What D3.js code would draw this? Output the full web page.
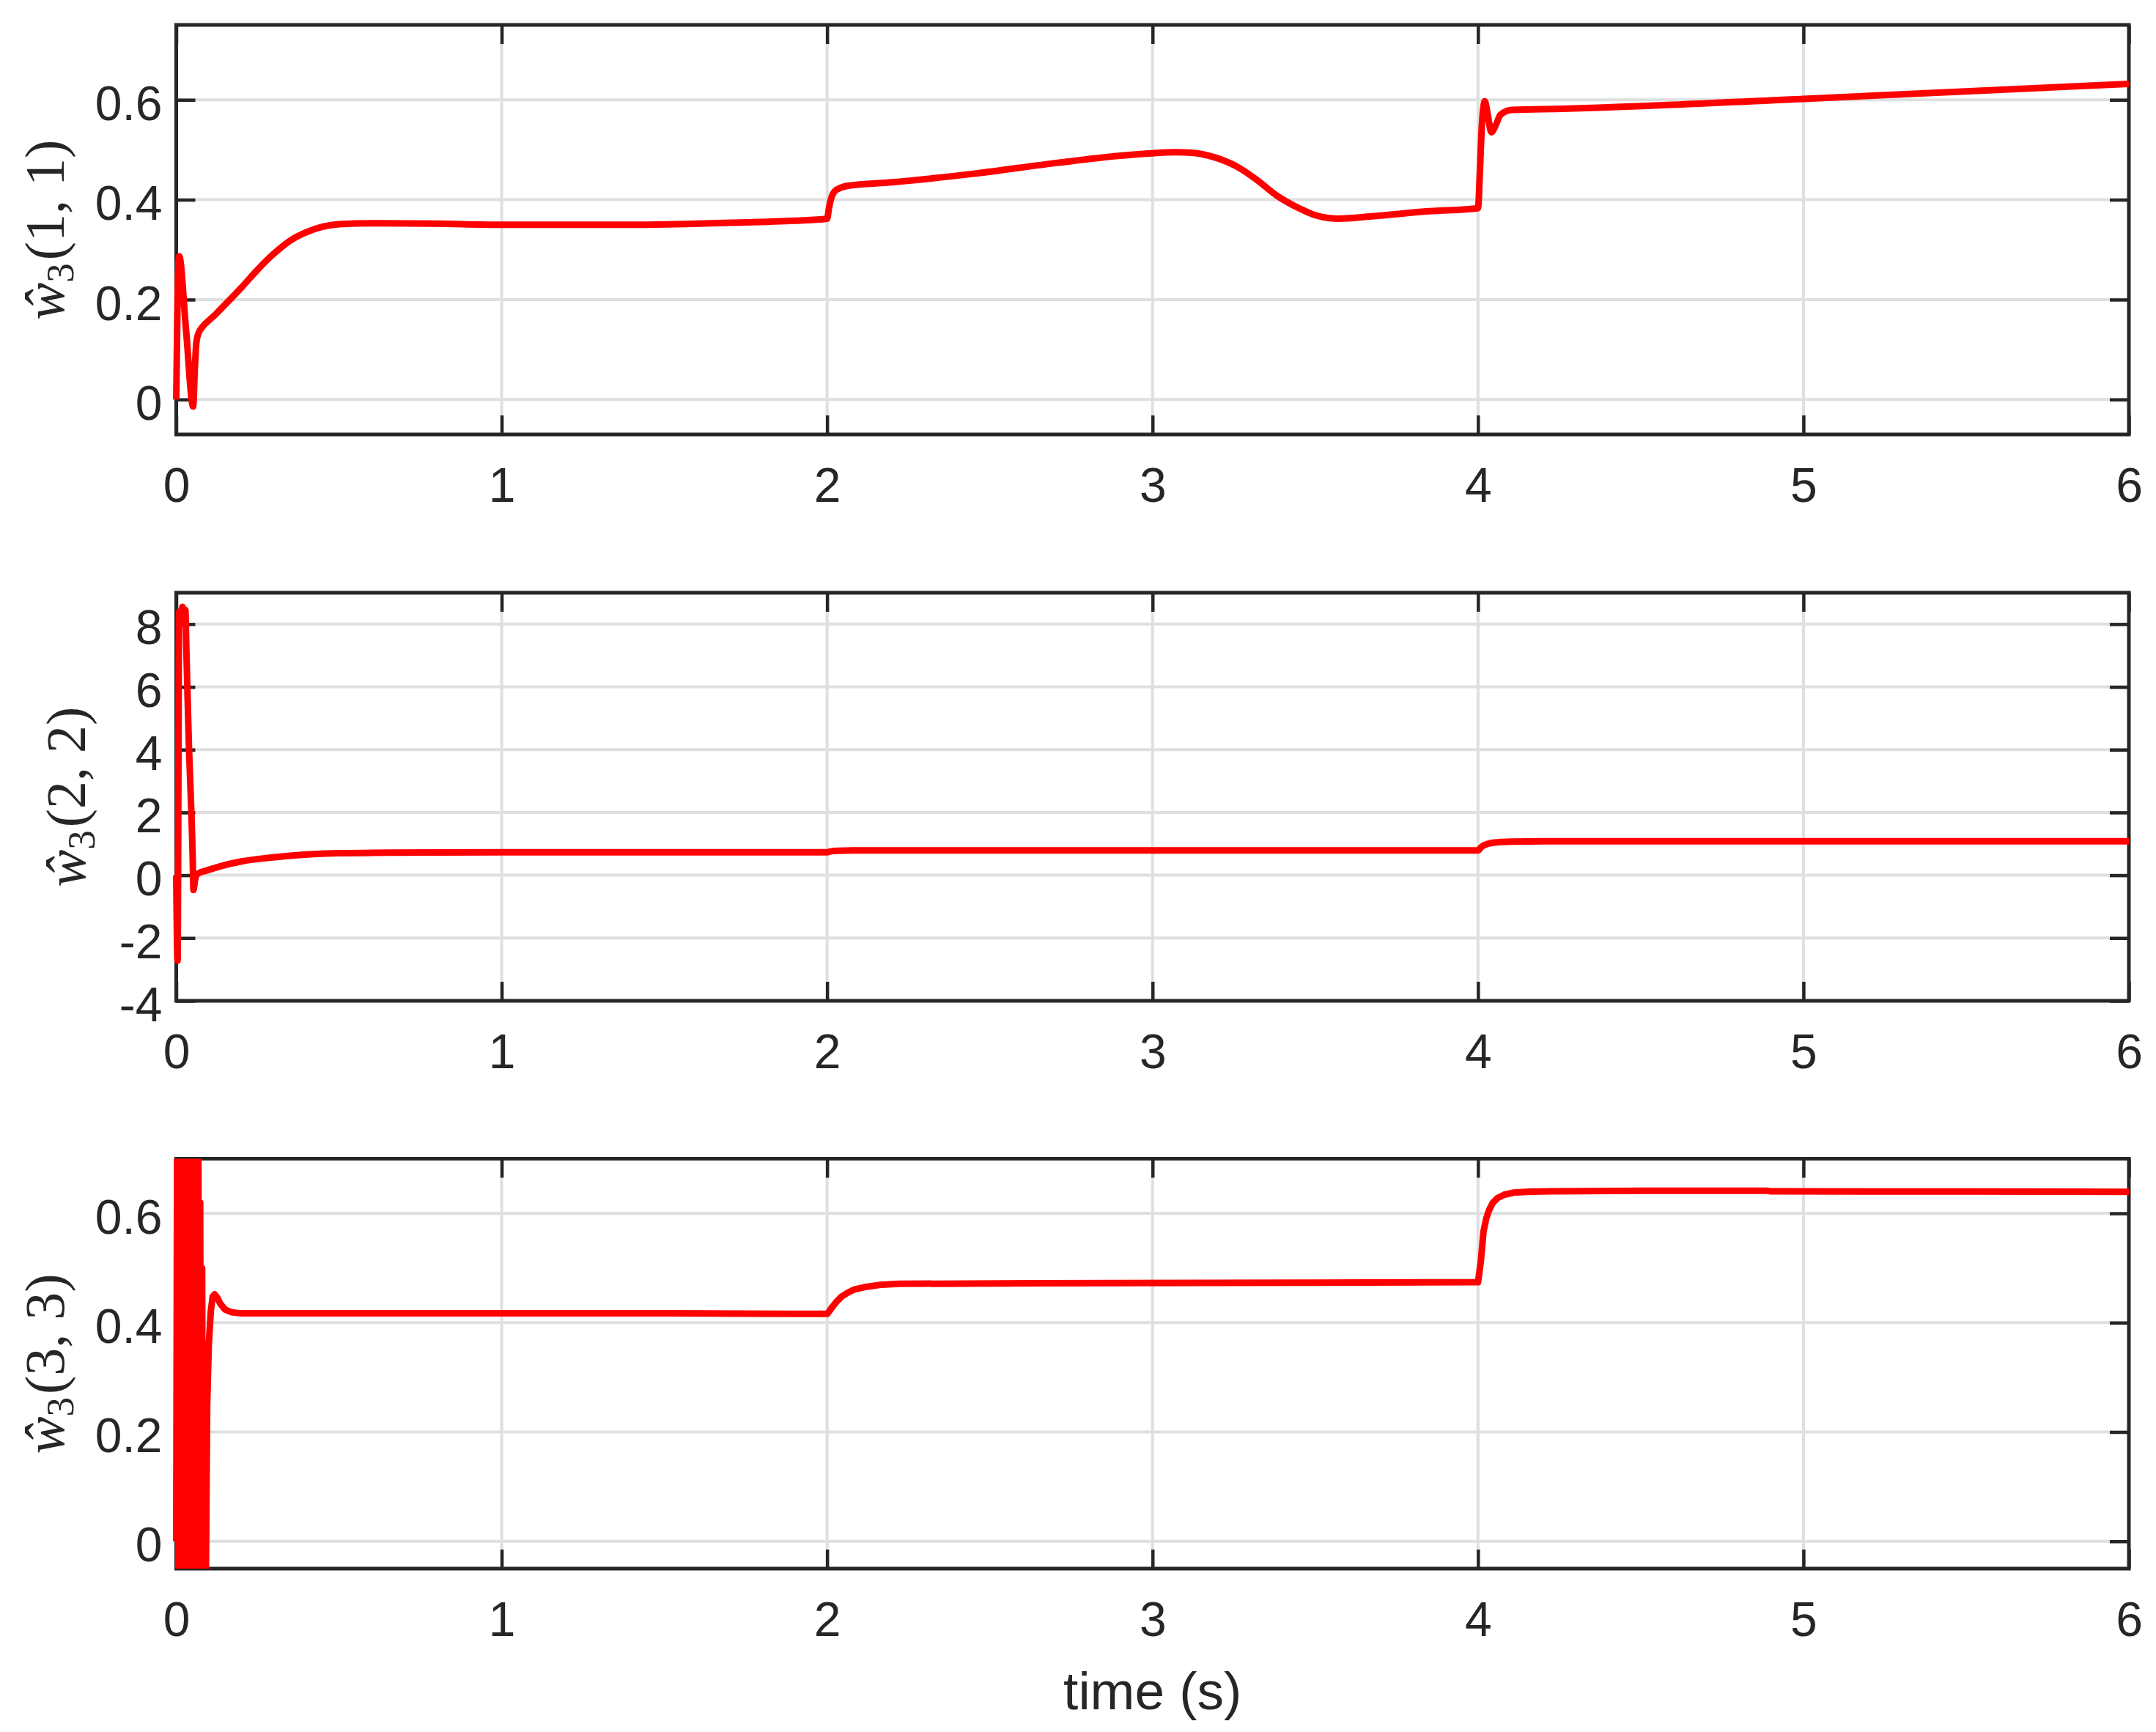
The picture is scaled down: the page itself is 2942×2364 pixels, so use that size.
<!DOCTYPE html>
<html><head><meta charset="utf-8">
<script src="https://cdn.jsdelivr.net/npm/d3@7/dist/d3.min.js"></script>
<style>body{margin:0;background:#fff}svg{display:block}</style>
</head><body>
<svg id="chart" width="2942" height="2364"></svg>
<script>
// ---------- data ----------
const xTicks = [0, 1, 2, 3, 4, 5, 6];
const xTickLabels = ["0", "1", "2", "3", "4", "5", "6"];
const xLabel = "time (s)";

const yTicks1 = [0, 0.2, 0.4, 0.6];
const yTickLabels1 = ["0", "0.2", "0.4", "0.6"];
const yDomain1 = [-0.07, 0.75];
const yTicks2 = [-4, -2, 0, 2, 4, 6, 8];
const yTickLabels2 = ["-4", "-2", "0", "2", "4", "6", "8"];
const yDomain2 = [-4, 9];
const yTicks3 = [0, 0.2, 0.4, 0.6];
const yTickLabels3 = ["0", "0.2", "0.4", "0.6"];
const yDomain3 = [-0.05, 0.7];

const yLabelIdx1 = "(1, 1)";
const yLabelIdx2 = "(2, 2)";
const yLabelIdx3 = "(3, 3)";

// w3(1,1)
const t1 = [0, 0.004, 0.009, 0.03, 0.052, 0.057, 0.062, 0.068, 0.08, 0.1,
            0.12, 0.15, 0.2, 0.25, 0.3, 0.35, 0.4, 0.45, 0.5, 0.6,
            0.8, 1.0, 1.4, 1.7, 1.9, 2.0, 2.006, 2.013, 2.022, 2.035,
            2.065, 2.2, 2.45, 2.71, 2.9, 3.0, 3.07, 3.12, 3.19, 3.26,
            3.32, 3.38, 3.45, 3.5, 3.545, 3.57, 3.68, 3.85, 4.0, 4.006,
            4.012, 4.021, 4.03, 4.041, 4.055, 4.069, 4.103, 4.26, 5.0, 6.0];
const w11 = [0, 0.2, 0.287, 0.14, -0.014, 0.06, 0.115, 0.132, 0.145, 0.158,
             0.17, 0.19, 0.224, 0.26, 0.292, 0.318, 0.335, 0.346, 0.351, 0.353,
             0.352, 0.350, 0.350, 0.354, 0.358, 0.362, 0.385, 0.404, 0.416, 0.422,
             0.428, 0.435, 0.452, 0.474, 0.488, 0.493, 0.495, 0.494, 0.485, 0.466,
             0.44, 0.409, 0.383, 0.369, 0.363, 0.362, 0.367, 0.377, 0.383, 0.46,
             0.55, 0.597, 0.57, 0.535, 0.55, 0.57, 0.58, 0.582, 0.602, 0.632];

// w3(2,2)
const t2 = [0, 0.004, 0.009, 0.014, 0.019, 0.024, 0.028, 0.031, 0.034, 0.039,
            0.0465, 0.05, 0.053, 0.057, 0.062, 0.07, 0.09, 0.13, 0.2, 0.28,
            0.35, 0.5, 0.65, 1.0, 2.0, 2.01, 2.03, 2.08, 3.0, 4.0,
            4.01, 4.03, 4.06, 4.1, 4.2, 5.0, 6.0];
const w22 = [0, -2.72, 8.4, 8.2, 8.55, 8.0, 8.45, 7.2, 6.0, 4.1,
             2.0, 0.8, -0.47, -0.2, 0.0, 0.07, 0.14, 0.27, 0.44, 0.55,
             0.62, 0.70, 0.72, 0.73, 0.73, 0.76, 0.78, 0.79, 0.79, 0.79,
             0.9, 1.0, 1.05, 1.07, 1.08, 1.08, 1.08];

// w3(3,3)
const t3 = [0, 0.004, 0.008, 0.012, 0.016, 0.02, 0.024, 0.028, 0.032, 0.036,
            0.04, 0.044, 0.048, 0.052, 0.056, 0.06, 0.064, 0.0675, 0.0705, 0.0735,
            0.0765, 0.0795, 0.0825, 0.0855, 0.09, 0.095, 0.1, 0.106, 0.112, 0.118,
            0.126, 0.135, 0.15, 0.17, 0.2, 0.5, 1.0, 1.5, 1.9, 2.0,
            2.008, 2.015, 2.03, 2.045, 2.064, 2.085, 2.115, 2.16, 2.22, 2.65,
            3.5, 4.0, 4.009, 4.017, 4.025, 4.034, 4.045, 4.06, 4.08, 4.11,
            4.16, 4.23, 4.52, 4.89, 4.9, 5.5, 6.0];
const w33 = [0, 1.1, -0.6, 1.2, -0.7, 1.0, -0.5, 1.15, -0.65, 1.05,
             -0.6, 1.2, -0.55, 1.0, -0.6, 1.1, -0.5, 0.95, -0.45, 0.62,
             -0.35, 0.5, -0.25, 0.32, -0.15, 0.25, 0.36, 0.42, 0.448, 0.452,
             0.446, 0.435, 0.424, 0.419, 0.417, 0.417, 0.417, 0.417, 0.416, 0.416,
             0.422, 0.428, 0.439, 0.448, 0.455, 0.461, 0.465, 0.469, 0.471, 0.4722,
             0.473, 0.474, 0.514, 0.567, 0.59, 0.606, 0.619, 0.628, 0.634, 0.638,
             0.6398, 0.6405, 0.6415, 0.6412, 0.6402, 0.640, 0.6395];

// ---------- layout & style ----------
const AX = "#262626", GRID = "#dfdfdf", RED = "#ff0000";
const SANS = "'Liberation Sans', Arial, Helvetica, sans-serif";
const SERIF = "'Liberation Serif', 'Times New Roman', serif";
const svg = d3.select("#chart");
const x = d3.scaleLinear().domain([0, 6]).range([240.5, 2905]);
const TICK = 26, LW = 9, PADX = 10;

const panels = [
  {top: 34, bottom: 593, domain: yDomain1, ticks: yTicks1, labels: yTickLabels1, t: t1, v: w11, idx: yLabelIdx1, lx: 87, curve: d3.curveMonotoneX},
  {top: 809, bottom: 1366, domain: yDomain2, ticks: yTicks2, labels: yTickLabels2, t: t2, v: w22, idx: yLabelIdx2, lx: 116, curve: d3.curveMonotoneX},
  {top: 1581.5, bottom: 2141, domain: yDomain3, ticks: yTicks3, labels: yTickLabels3, t: t3, v: w33, idx: yLabelIdx3, lx: 87, curve: d3.curveLinear}
];

panels.forEach((p, i) => {
  const y = d3.scaleLinear().domain(p.domain).range([p.bottom, p.top]);
  const g = svg.append("g");
  const x0 = x.range()[0], x1 = x.range()[1];

  // grid
  g.append("g").selectAll("line").data(xTicks).enter().append("line")
    .attr("x1", d => x(d)).attr("x2", d => x(d)).attr("y1", p.top).attr("y2", p.bottom)
    .attr("stroke", GRID).attr("stroke-width", 4);
  g.append("g").selectAll("line").data(p.ticks).enter().append("line")
    .attr("x1", x0).attr("x2", x1).attr("y1", d => y(d)).attr("y2", d => y(d))
    .attr("stroke", GRID).attr("stroke-width", 4);

  // axes
  const styleAxis = sel => {
    sel.select(".domain").remove();
    sel.selectAll(".tick line").attr("stroke", AX).attr("stroke-width", 4.5);
    sel.selectAll("text").attr("fill", AX).attr("font-family", SANS).attr("font-size", 66);
  };
  g.append("g").attr("transform", `translate(${x0},0)`)
    .call(d3.axisLeft(y).tickValues(p.ticks).tickSize(-TICK).tickPadding(19)
      .tickFormat((d, k) => p.labels[k]))
    .call(styleAxis)
    .call(s => s.selectAll("text").attr("dy", "0.41em"));
  g.append("g").attr("transform", `translate(${x1},0)`)
    .call(d3.axisRight(y).tickValues(p.ticks).tickSize(-TICK).tickFormat(""))
    .call(styleAxis);
  g.append("g").attr("transform", `translate(0,${p.bottom})`)
    .call(d3.axisBottom(x).tickValues(xTicks).tickSize(-TICK)
      .tickFormat((d, k) => xTickLabels[k]))
    .call(styleAxis)
    .call(s => s.selectAll("text").attr("y", 92).attr("dy", null));
  g.append("g").attr("transform", `translate(0,${p.top})`)
    .call(d3.axisTop(x).tickValues(xTicks).tickSize(-TICK).tickFormat(""))
    .call(styleAxis);

  // box
  g.append("rect").attr("x", x0).attr("y", p.top).attr("width", x1 - x0).attr("height", p.bottom - p.top)
    .attr("fill", "none").attr("stroke", AX).attr("stroke-width", 5);

  // data, clipped by a nested svg viewport at the axes limits
  const vp = g.append("svg")
    .attr("x", x0 - PADX).attr("y", p.top)
    .attr("width", x1 - x0 + 2 * PADX).attr("height", p.bottom - p.top)
    .attr("viewBox", `${x0 - PADX} ${p.top} ${x1 - x0 + 2 * PADX} ${p.bottom - p.top}`)
    .style("overflow", "hidden");
  const pts = p.t.map((t, k) => [t, p.v[k]]);
  vp.append("path").datum(pts)
    .attr("d", d3.line().curve(p.curve).x(d => x(d[0])).y(d => y(d[1])))
    .attr("fill", "none").attr("stroke", RED).attr("stroke-width", LW)
    .attr("stroke-linejoin", "round").attr("stroke-linecap", "butt");

  // y label: \hat{w}_3(i,i)
  const cy = (p.top + p.bottom) / 2;
  const lab = g.append("text").attr("transform", `translate(${p.lx},${cy}) rotate(-90)`)
    .attr("text-anchor", "middle").attr("font-family", SERIF).attr("font-size", 76).attr("fill", AX);
  lab.append("tspan").attr("font-style", "italic").text("\u0175");
  lab.append("tspan").attr("font-size", 53).attr("dy", 13).text("3");
  lab.append("tspan").attr("dy", -13).attr("dx", 4).text(p.idx);
});

// x label
svg.append("text").attr("x", x(3)).attr("y", 2333).attr("text-anchor", "middle")
  .attr("font-family", SANS).attr("font-size", 73).attr("fill", AX).text(xLabel);
</script>
</body></html>
